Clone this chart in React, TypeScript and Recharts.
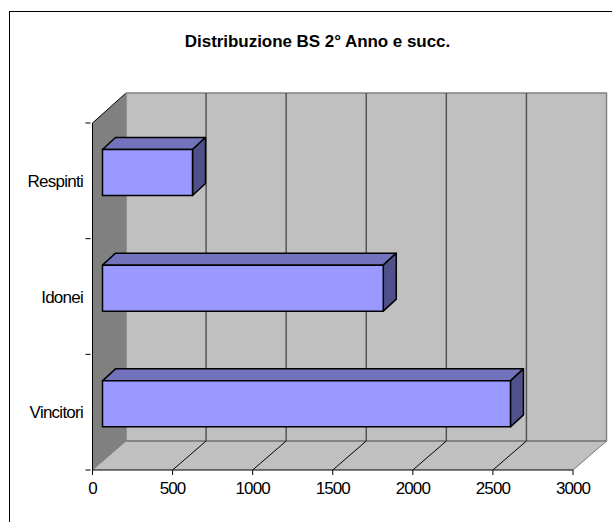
import { BarChart, Bar, XAxis, YAxis, CartesianGrid } from 'recharts'

const categories = ['Respinti', 'Idonei', 'Vincitori']
const values = [562, 1753, 2547]
const xTicks = [0, 500, 1000, 1500, 2000, 2500, 3000]

const chartData = categories.map((name, i) => ({ name, value: values[i] }))

// fake 3D offsets, same look as the old Excel chart
const WALL_DX = 33.5
const WALL_DY = 29
const WALL_TOP = 93
const FLOOR_W = 481
const BAR_DX = 13
const BAR_DY = 12
const BAR_SHIFT_X = 10
const BAR_SHIFT_Y = -8.5
const BAND = 115.67
const FONT = '"Liberation Sans", Arial, sans-serif'

function GridLine(props: any) {
  const { x1, y1, y2, index } = props
  const backX = x1 + WALL_DX
  const backBottom = y2 - WALL_DY
  const isFirst = index === 0
  const isLast = index === xTicks.length - 1
  return (
    <g>
      {isFirst && (
        <g>
          <polygon
            points={`${x1},${y1} ${backX},${WALL_TOP} ${backX},${backBottom} ${x1},${y2}`}
            fill="#808080"
          />
          <rect x={backX} y={WALL_TOP} width={FLOOR_W} height={backBottom - WALL_TOP} fill="#c0c0c0" />
          <polygon
            points={`${x1},${y2} ${backX},${backBottom} ${backX + FLOOR_W},${backBottom} ${x1 + FLOOR_W},${y2}`}
            fill="#c0c0c0"
          />
          <line x1={backX} y1={WALL_TOP} x2={backX + FLOOR_W} y2={WALL_TOP} stroke="#808080" strokeWidth={1.5} />
          <line x1={backX} y1={backBottom} x2={backX + FLOOR_W} y2={backBottom} stroke="#707070" strokeWidth={1.5} />
          <line x1={x1} y1={y1} x2={backX} y2={WALL_TOP} stroke="#000" strokeWidth={1} />
        </g>
      )}
      <line
        x1={backX}
        y1={WALL_TOP}
        x2={backX}
        y2={backBottom}
        stroke={isFirst || isLast ? '#808080' : '#555'}
        strokeWidth={1.5}
      />
      <line
        x1={x1}
        y1={y2}
        x2={backX}
        y2={backBottom}
        stroke={isFirst || isLast ? '#808080' : '#000'}
        strokeWidth={1}
      />
    </g>
  )
}

function Bar3D(props: any) {
  const x = props.x + BAR_SHIFT_X
  const y = props.y + BAR_SHIFT_Y
  const { width, height } = props
  const right = x + width
  const bottom = y + height
  return (
    <g stroke="#000" strokeWidth={1.5} strokeLinejoin="round">
      <polygon
        points={`${x},${y} ${x + BAR_DX},${y - BAR_DY} ${right + BAR_DX},${y - BAR_DY} ${right},${y}`}
        fill="#7373bd"
      />
      <polygon
        points={`${right},${y} ${right + BAR_DX},${y - BAR_DY} ${right + BAR_DX},${bottom - BAR_DY} ${right},${bottom}`}
        fill="#50508a"
      />
      <rect x={x} y={y} width={width} height={height} fill="#9999ff" />
    </g>
  )
}

// ticks sit between the categories, labels in the middle of the band
function CategoryTick(props: any) {
  const { x, y, payload, index } = props
  return (
    <g>
      <line x1={x - 5} x2={x} y1={y - BAND / 2} y2={y - BAND / 2} stroke="#000" />
      {index === categories.length - 1 && (
        <line x1={x - 5} x2={x} y1={y + BAND / 2} y2={y + BAND / 2} stroke="#000" />
      )}
      <text
        x={x - 7.5}
        y={y}
        dy="0.36em"
        textAnchor="end"
        fill="#000"
        fontSize={17}
        fontFamily={FONT}
        letterSpacing={-0.75}
      >
        {payload.value}
      </text>
    </g>
  )
}

function ValueTick(props: any) {
  const { x, y, payload } = props
  return (
    <text
      x={x}
      y={y + 17}
      textAnchor="middle"
      fill="#000"
      fontSize={17}
      fontFamily={FONT}
      letterSpacing={-0.9}
    >
      {payload.value}
    </text>
  )
}

export default function App() {
  return (
    <div style={{ position: 'absolute', left: 0, top: 0, width: 612, height: 522, overflow: 'hidden', background: '#fff' }}>
      <div
        style={{
          position: 'absolute',
          left: 9,
          top: 11,
          width: 640,
          height: 560,
          border: '1px solid #000',
        }}
      />
      <div
        style={{
          position: 'absolute',
          left: 0,
          width: 635,
          top: 32,
          textAlign: 'center',
          font: `bold 17px ${FONT}`,
          letterSpacing: -0.05,
          color: '#000',
        }}
      >
        Distribuzione BS 2° Anno e succ.
      </div>
      <div style={{ position: 'absolute', left: 0, top: 0 }}>
        <BarChart
          width={612}
          height={522}
          data={chartData}
          layout="vertical"
          margin={{ top: 123, right: 39, left: 0, bottom: 0 }}
          barSize={46}
        >
          <CartesianGrid horizontal={false} vertical={(p: any) => <GridLine key={p.index} {...p} />} />
          <XAxis
            type="number"
            domain={[0, 3000]}
            ticks={xTicks}
            height={52}
            interval={0}
            stroke="#000"
            tickSize={5}
            tick={ValueTick}
          />
          <YAxis
            dataKey="name"
            type="category"
            width={92.5}
            stroke="#000"
            tickLine={false}
            tickSize={0}
            tick={CategoryTick}
          />
          <Bar dataKey="value" shape={Bar3D} isAnimationActive={false} />
        </BarChart>
      </div>
    </div>
  )
}
